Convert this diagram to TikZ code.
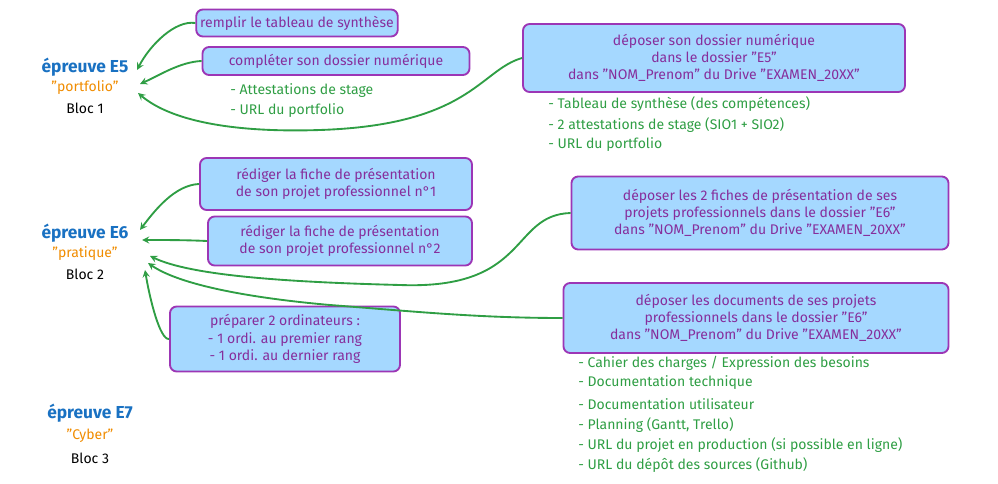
\documentclass[tikz,border=0pt]{standalone}
\usepackage{fontspec}
\setmainfont{Fira Sans}
\newcommand\qq{\symbol{34}}
\definecolor{bfill}{HTML}{A5D8FF}
\definecolor{bdraw}{HTML}{9C36B5}
\definecolor{btext}{HTML}{862E9C}
\definecolor{grn}{HTML}{2F9E44}
\definecolor{blu}{HTML}{1971C2}
\definecolor{org}{HTML}{F08C00}
\begin{document}
\begin{tikzpicture}[x=0.75pt,y=-0.75pt,
  box/.style={draw=bdraw,fill=bfill,text=btext,line width=1.4pt,rounded corners=5pt,align=center,font=\fontsize{10.5}{13}\selectfont,inner sep=3pt},
  ttl/.style={text=blu,font=\fontsize{13}{14}\selectfont\bfseries},
  sub/.style={text=org,font=\fontsize{10.5}{12}\selectfont},
  blc/.style={font=\fontsize{10.5}{12}\selectfont},
  lst/.style={text=grn,anchor=west,font=\fontsize{10.5}{12}\selectfont,inner sep=0pt},
  arr/.style={draw=grn,line width=1.4pt,->,>={stealth}}]
\useasboundingbox (0,0) rectangle (998,484);
% E5
\node[ttl] (e5) at (85,67) {épreuve E5};
\node[sub] (p5) at (85,88) {\qq portfolio\qq};
\node[blc] (b5) at (85,108) {Bloc 1};
\node[box,minimum width=188*0.75pt,minimum height=27*0.75pt] (r1) at (297,23) {remplir le tableau de synthèse};
\node[box,minimum width=267*0.75pt,minimum height=28*0.75pt] (r2) at (336,61) {compléter son dossier numérique};
\node[lst] (l1) at (230,91) {- Attestations de stage};
\node[lst] (l2) at (230,111) {- URL du portfolio};
\node[box,minimum width=382*0.75pt,minimum height=68*0.75pt] (r3) at (714,58) {déposer son dossier numérique\\dans le dossier \qq E5\qq\\dans \qq NOM\_Prenom\qq{} du Drive \qq EXAMEN\_20XX\qq};
\node[lst] (m1) at (548,104) {- Tableau de synthèse (des compétences)};
\node[lst] (m2) at (548,125) {- 2 attestations de stage (SIO1 + SIO2)};
\node[lst] (m3) at (548,145) {- URL du portfolio};
\coordinate (t1) at (137,70);
\coordinate (t2) at (140,84);
\coordinate (t3) at (138,93);
\draw[arr] (r1.west) .. controls (175,20) and (150,45) .. (t1);
\draw[arr] (r2.west) .. controls (180,62) and (160,75) .. (t2);
\draw[arr] (r3.west) .. controls (480,70) and (470,125) .. (320,130) .. controls (230,133) and (170,120) .. (t3);
% E6
\node[ttl] (e6) at (85,233) {épreuve E6};
\node[sub] (p6) at (85,254) {\qq pratique\qq};
\node[blc] (b6) at (85,274) {Bloc 2};
\node[box,minimum width=272*0.75pt,minimum height=52*0.75pt] (r4) at (336,184) {rédiger la fiche de présentation\\de son projet professionnel n°1};
\node[box,minimum width=264*0.75pt,minimum height=49*0.75pt] (r5) at (340,241) {rédiger la fiche de présentation\\de son projet professionnel n°2};
\node[box,minimum width=377*0.75pt,minimum height=73*0.75pt] (r6) at (760,213) {déposer les 2 fiches de présentation de ses\\projets professionnels dans le dossier \qq E6\qq\\dans \qq NOM\_Prenom\qq{} du Drive \qq EXAMEN\_20XX\qq};
\node[box,minimum width=385*0.75pt,minimum height=70*0.75pt] (r7) at (756,318) {déposer les documents de ses projets\\professionnels dans le dossier \qq E6\qq\\dans \qq NOM\_Prenom\qq{} du Drive \qq EXAMEN\_20XX\qq};
\node[box,minimum width=230*0.75pt,minimum height=65*0.75pt] (r8) at (285,339) {préparer 2 ordinateurs :\\- 1 ordi. au premier rang\\- 1 ordi. au dernier rang};
\node[lst] (n1) at (578,363) {- Cahier des charges / Expression des besoins};
\node[lst] (n2) at (578,383) {- Documentation technique};
\node[lst] (n3) at (578,404) {- Documentation utilisateur};
\node[lst] (n4) at (578,425) {- Planning (Gantt, Trello)};
\node[lst] (n5) at (578,445) {- URL du projet en production (si possible en ligne)};
\node[lst] (n6) at (578,465) {- URL du dépôt des sources (Github)};
\coordinate (u1) at (140,230);
\coordinate (u2) at (142,240);
\coordinate (u3) at (150,256);
\coordinate (u4) at (148,263);
\coordinate (u5) at (145,270);
\draw[arr] (r4.west) .. controls (175,185) and (155,210) .. (u1);
\draw[arr] (r5.west) .. controls (185,240) and (165,240) .. (u2);
\draw[arr] (r6.west) .. controls (510,215) and (530,290) .. (400,285) .. controls (280,282) and (190,275) .. (u3);
\draw[arr] (r7.west) .. controls (480,318) and (420,312) .. (330,305) .. controls (250,298) and (180,285) .. (u4);
\draw[arr] (r8.west) .. controls (160,340) and (150,300) .. (u5);
% E7
\node[ttl] (e7) at (90,413) {épreuve E7};
\node[sub] (p7) at (90,436) {\qq Cyber\qq};
\node[blc] (b7) at (90,458) {Bloc 3};
\end{tikzpicture}
\end{document}
